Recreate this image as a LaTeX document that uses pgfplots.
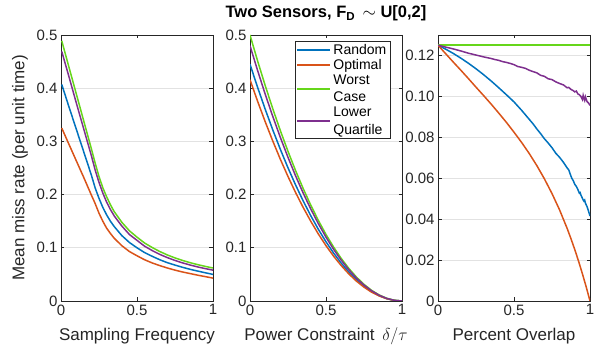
\documentclass[border=0pt]{standalone}
\usepackage{fontspec}
\setmainfont{Liberation Sans}
\usepackage{pgfplots}
\pgfplotsset{compat=1.18}
\definecolor{axcol}{RGB}{38,38,38}
\definecolor{gridcol}{RGB}{226,226,226}
\definecolor{cblue}{rgb}{0,0.447,0.741}
\definecolor{corange}{rgb}{0.85,0.325,0.098}
\definecolor{cgreen}{RGB}{102,214,26}
\definecolor{cpurple}{rgb}{0.494,0.184,0.556}
\pgfplotsset{
  mstyle/.style={
    scale only axis, width=152pt, height=266pt,
    xmin=0, xmax=1, ymin=0,
    axis line style={draw=axcol, line width=0.6pt},
    tick style={draw=axcol, line width=0.6pt},
    tick align=inside, major tick length=3.5pt,
    xtick={0,0.5,1}, xticklabels={0,0.5,1},
    ymajorgrids, grid style={draw=gridcol, line width=0.6pt},
    ticklabel style={font=\fontsize{15}{18}\selectfont, text=axcol},
    every axis x label/.style={at={(axis description cs:0.5,0)}, anchor=base, yshift=-40pt, font=\fontsize{17}{20}\selectfont, text=axcol},
    every axis y label/.style={at={(axis description cs:-0.27,0.5)}, rotate=90, anchor=center, font=\fontsize{17}{20}\selectfont, text=axcol},
    every axis plot/.append style={line width=1.5pt, no marks},
  }
}
\begin{document}
\begin{tikzpicture}
\useasboundingbox (0,0) rectangle (595pt,347pt);
% Panel 1
\begin{axis}[mstyle, at={(61pt,46pt)}, anchor=south west,
  ymax=0.5, ytick={0,0.1,0.2,0.3,0.4,0.5}, yticklabels={0,0.1,0.2,0.3,0.4,0.5},
  xlabel={Sampling Frequency}, ylabel={Mean miss rate (per unit time)}]
\addplot[color=cblue] coordinates {(0.005,0.407) (0.05,0.367) (0.1,0.3235) (0.15,0.280) (0.2,0.2365) (0.225,0.2123) (0.25,0.193) (0.275,0.176) (0.3,0.162) (0.325,0.150) (0.35,0.140) (0.4,0.123) (0.45,0.110) (0.5,0.100) (0.55,0.091) (0.6,0.084) (0.65,0.0775) (0.7,0.072) (0.75,0.0675) (0.8,0.0633) (0.85,0.0595) (0.9,0.0562) (0.95,0.0530) (1,0.050)};
\addplot[color=corange] coordinates {(0.005,0.325) (0.05,0.296) (0.1,0.264) (0.15,0.232) (0.2,0.199) (0.225,0.183) (0.25,0.165) (0.275,0.150) (0.3,0.137) (0.325,0.127) (0.35,0.118) (0.4,0.104) (0.45,0.093) (0.5,0.085) (0.55,0.0775) (0.6,0.0715) (0.65,0.0665) (0.7,0.062) (0.75,0.058) (0.8,0.0545) (0.85,0.0515) (0.9,0.0485) (0.95,0.0458) (1,0.043)};
\addplot[color=cgreen] coordinates {(0.005,0.489) (0.05,0.442) (0.1,0.390) (0.15,0.338) (0.2,0.286) (0.225,0.259) (0.25,0.234) (0.275,0.213) (0.3,0.196) (0.325,0.181) (0.35,0.168) (0.4,0.148) (0.45,0.132) (0.5,0.120) (0.55,0.109) (0.6,0.1005) (0.65,0.093) (0.7,0.0865) (0.75,0.081) (0.8,0.0762) (0.85,0.072) (0.9,0.0683) (0.95,0.065) (1,0.062)};
\addplot[color=cpurple] coordinates {(0.005,0.469) (0.05,0.424) (0.1,0.373) (0.15,0.323) (0.2,0.273) (0.225,0.246) (0.25,0.223) (0.275,0.203) (0.3,0.186) (0.325,0.172) (0.35,0.160) (0.4,0.141) (0.45,0.125) (0.5,0.114) (0.55,0.103) (0.6,0.0948) (0.65,0.0876) (0.7,0.0815) (0.75,0.0762) (0.8,0.0716) (0.85,0.0676) (0.9,0.0640) (0.95,0.0608) (1,0.058)};
\end{axis}
% Panel 2
\begin{axis}[mstyle, at={(250pt,46pt)}, anchor=south west,
  ymax=0.5, ytick={0,0.1,0.2,0.3,0.4,0.5}, yticklabels={0,0.1,0.2,0.3,0.4,0.5},
  xlabel={Power Constraint \,$\delta/\tau$},
  title={Two Sensors, F\textsubscript{D} \,$\sim$ U[0,2]},
  title style={at={(axis description cs:0.5,1)}, anchor=base, yshift=11pt, font=\bfseries\fontsize{16.5}{20}\selectfont, text=black},
  legend style={at={(axis description cs:0.296,0.977)}, anchor=north west, draw=axcol, line width=0.6pt, fill=white,
    font=\fontsize{14}{17.5}\selectfont, inner xsep=1pt, inner ysep=1pt, row sep=0pt,
    nodes={inner ysep=1.8pt, inner xsep=2.5pt}, cells={align=left, anchor=west}},
  legend image code/.code={\draw[line width=1.6pt] (1pt,0pt) -- (34pt,0pt);}]
\addplot[color=cblue] coordinates {(0,0.445) (0.05,0.4016) (0.1,0.3605) (0.15,0.3215) (0.2,0.2848) (0.25,0.2503) (0.3,0.2181) (0.35,0.188) (0.4,0.1602) (0.45,0.1346) (0.5,0.1113) (0.55,0.0901) (0.6,0.0712) (0.65,0.0545) (0.7,0.0401) (0.75,0.0278) (0.8,0.0178) (0.85,0.01) (0.9,0.0045) (0.95,0.0011) (1,0)};
\addlegendentry{Random}
\addplot[color=corange] coordinates {(0,0.416) (0.05,0.3754) (0.1,0.337) (0.15,0.3006) (0.2,0.2662) (0.25,0.234) (0.3,0.2038) (0.35,0.1758) (0.4,0.1498) (0.45,0.1258) (0.5,0.104) (0.55,0.0842) (0.6,0.0666) (0.65,0.051) (0.7,0.0374) (0.75,0.026) (0.8,0.0166) (0.85,0.0094) (0.9,0.0042) (0.95,0.001) (1,0)};
\addlegendentry{Optimal}
\addplot[color=cgreen] coordinates {(0,0.5) (0.05,0.4513) (0.1,0.405) (0.15,0.3613) (0.2,0.32) (0.25,0.2813) (0.3,0.245) (0.35,0.2113) (0.4,0.18) (0.45,0.1513) (0.5,0.125) (0.55,0.1013) (0.6,0.08) (0.65,0.0613) (0.7,0.045) (0.75,0.0313) (0.8,0.02) (0.85,0.0113) (0.9,0.005) (0.95,0.0013) (1,0)};
\addlegendentry{Worst\\Case}
\addplot[color=cpurple] coordinates {(0,0.48) (0.05,0.4332) (0.1,0.3888) (0.15,0.3468) (0.2,0.3072) (0.25,0.27) (0.3,0.2352) (0.35,0.2028) (0.4,0.1728) (0.45,0.1452) (0.5,0.12) (0.55,0.0972) (0.6,0.0768) (0.65,0.0588) (0.7,0.0432) (0.75,0.03) (0.8,0.0192) (0.85,0.0108) (0.9,0.0048) (0.95,0.0012) (1,0)};
\addlegendentry{Lower\\Quartile}
\end{axis}
% Panel 3
\begin{axis}[mstyle, at={(438pt,46pt)}, anchor=south west,
  ymax=0.13, ytick={0,0.02,0.04,0.06,0.08,0.1,0.12}, yticklabels={0,0.02,0.04,0.06,0.08,0.10,0.12},
  xlabel={Percent Overlap}]
\addplot[color=cblue] coordinates {(0,0.1250) (0.05,0.1231) (0.1,0.1210) (0.15,0.1187) (0.2,0.1162) (0.25,0.1135) (0.3,0.1106) (0.35,0.1075) (0.4,0.1042) (0.45,0.1008) (0.5,0.0973) (0.55,0.0932) (0.6,0.0888) (0.625,0.0866) (0.65,0.0841) (0.675,0.0818) (0.7,0.0793) (0.725,0.0772) (0.75,0.0749) (0.775,0.0722) (0.8,0.0702) (0.825,0.0678) (0.85,0.0650) (0.86,0.0641) (0.87,0.0620) (0.88,0.0600) (0.89,0.0588) (0.9,0.0570) (0.91,0.0560) (0.92,0.0545) (0.93,0.0527) (0.935,0.0530) (0.94,0.0518) (0.95,0.0502) (0.955,0.0494) (0.96,0.0488) (0.965,0.0493) (0.97,0.0478) (0.98,0.0462) (0.99,0.0440) (1,0.0415)};
\addplot[color=corange] coordinates {(0,0.125) (0.05,0.1209) (0.1,0.1168) (0.15,0.1128) (0.2,0.1087) (0.25,0.1045) (0.3,0.1004) (0.35,0.0962) (0.4,0.0918) (0.45,0.0873) (0.5,0.0825) (0.55,0.0775) (0.6,0.0721) (0.65,0.0662) (0.7,0.0597) (0.75,0.0525) (0.8,0.0445) (0.85,0.0354) (0.875,0.0304) (0.9,0.0251) (0.925,0.0194) (0.95,0.0133) (0.975,0.0069) (1,0)};
\addplot[color=cgreen] coordinates {(0,0.125) (1,0.125)};
\addplot[color=cpurple] coordinates {(0,0.1250) (0.05,0.1241) (0.1,0.1232) (0.15,0.1222) (0.2,0.1211) (0.25,0.1202) (0.3,0.1193) (0.325,0.1189) (0.35,0.1185) (0.375,0.1180) (0.4,0.1176) (0.425,0.1170) (0.45,0.1166) (0.475,0.1161) (0.5,0.1155) (0.525,0.1146) (0.55,0.1142) (0.575,0.1137) (0.6,0.1128) (0.625,0.1121) (0.65,0.1115) (0.675,0.1103) (0.7,0.1098) (0.725,0.1086) (0.75,0.1082) (0.775,0.1071) (0.8,0.1063) (0.825,0.1056) (0.85,0.1042) (0.86,0.1044) (0.875,0.1034) (0.89,0.1028) (0.9,0.1022) (0.91,0.1026) (0.92,0.1012) (0.93,0.1008) (0.94,0.1000) (0.95,0.0985) (0.955,0.1005) (0.96,0.0990) (0.965,0.0980) (0.97,0.0998) (0.98,0.0975) (0.99,0.0968) (1,0.0956)};
\end{axis}
\end{tikzpicture}
\end{document}
